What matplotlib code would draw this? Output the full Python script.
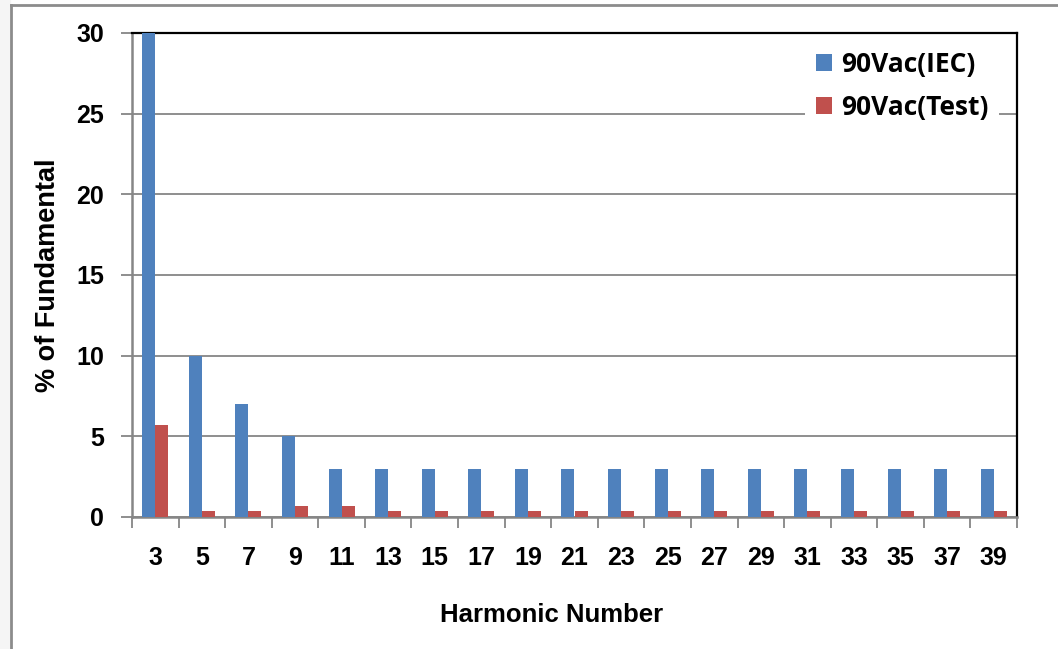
import numpy as np
import matplotlib.pyplot as plt
from matplotlib.patches import Rectangle
from matplotlib.lines import Line2D

harmonics = [3, 5, 7, 9, 11, 13, 15, 17, 19, 21, 23, 25, 27, 29, 31, 33, 35, 37, 39]
iec_limit = [30, 10, 7, 5, 3, 3, 3, 3, 3, 3, 3, 3, 3, 3, 3, 3, 3, 3, 3]
test_vals = [5.7, 0.4, 0.4, 0.7, 0.7, 0.4, 0.4, 0.4, 0.4, 0.4, 0.4, 0.4, 0.4, 0.4, 0.4, 0.4, 0.4, 0.4, 0.4]
y_ticks = [0, 5, 10, 15, 20, 25, 30]

blue = "#4f81bd"
red = "#c0504d"
grid_gray = "#868686"

plt.rcParams["font.family"] = ["Liberation Sans", "DejaVu Sans"]

fig = plt.figure(figsize=(10.58, 6.49), dpi=100)
W, H = 1058, 649

# outer frame like the original screenshot
fig.patches.append(Rectangle((0, 0), 10 / W, 1, transform=fig.transFigure, color="#f5f5f5", zorder=0))
fig.lines.append(Line2D([10.5 / W, 10.5 / W], [0, 1 - 4.5 / H], transform=fig.transFigure, color="#8c8c8c", lw=2))
fig.lines.append(Line2D([10.5 / W, 1], [1 - 4.5 / H, 1 - 4.5 / H], transform=fig.transFigure, color="#8c8c8c", lw=2))

ax = fig.add_axes([132 / W, 1 - 517 / H, (1017 - 132) / W, (517 - 33) / H])

x = np.arange(len(harmonics))
w = 0.28
ax.bar(x - w / 2, iec_limit, w, color=blue, label="90Vac(IEC)", zorder=3)
ax.bar(x + w / 2, test_vals, w, color=red, label="90Vac(Test)", zorder=3)

ax.set_xlim(-0.5, len(harmonics) - 0.5)
ax.set_ylim(0, 30)
ax.set_yticks(y_ticks)
ax.set_yticklabels([str(v) for v in y_ticks], fontsize=18, fontweight="bold")
ax.yaxis.grid(True, color=grid_gray, lw=1.3, zorder=0)
ax.set_axisbelow(True)

ax.set_xticks(x)
ax.set_xticklabels([str(h) for h in harmonics], fontsize=18, fontweight="bold")
ax.set_xticks(np.arange(-0.5, len(harmonics)), minor=True)
ax.tick_params(axis="x", which="major", length=0, pad=21)
ax.tick_params(axis="x", which="minor", length=8, width=1.3, color=grid_gray)
ax.tick_params(axis="y", length=8, width=1.3, color=grid_gray, pad=12)

for side in ["left", "bottom"]:
    ax.spines[side].set_color(grid_gray)
    ax.spines[side].set_linewidth(1.8)
for side in ["top", "right"]:
    ax.spines[side].set_color("black")
    ax.spines[side].set_linewidth(1.6)

fig.text(552 / W, 1 - 615 / H, "Harmonic Number", ha="center", va="center", fontsize=18.5, fontweight="bold")
fig.text(48 / W, 1 - 275 / H, "% of Fundamental", ha="center", va="center", rotation=90, fontsize=19.5, fontweight="bold")

leg = ax.legend(loc="upper left", bbox_to_anchor=(792 / W, 1 - 27 / H), bbox_transform=fig.transFigure,
                frameon=True, fancybox=False, edgecolor="none", facecolor="white", framealpha=1,
                handlelength=0.62, handleheight=0.62, handletextpad=0.35, labelspacing=0.6, borderpad=0.4,
                prop={"family": ["Open Sans", "DejaVu Sans"], "weight": "bold", "size": 19})
leg.set_zorder(5)

fig.savefig("out.png", dpi=100)
